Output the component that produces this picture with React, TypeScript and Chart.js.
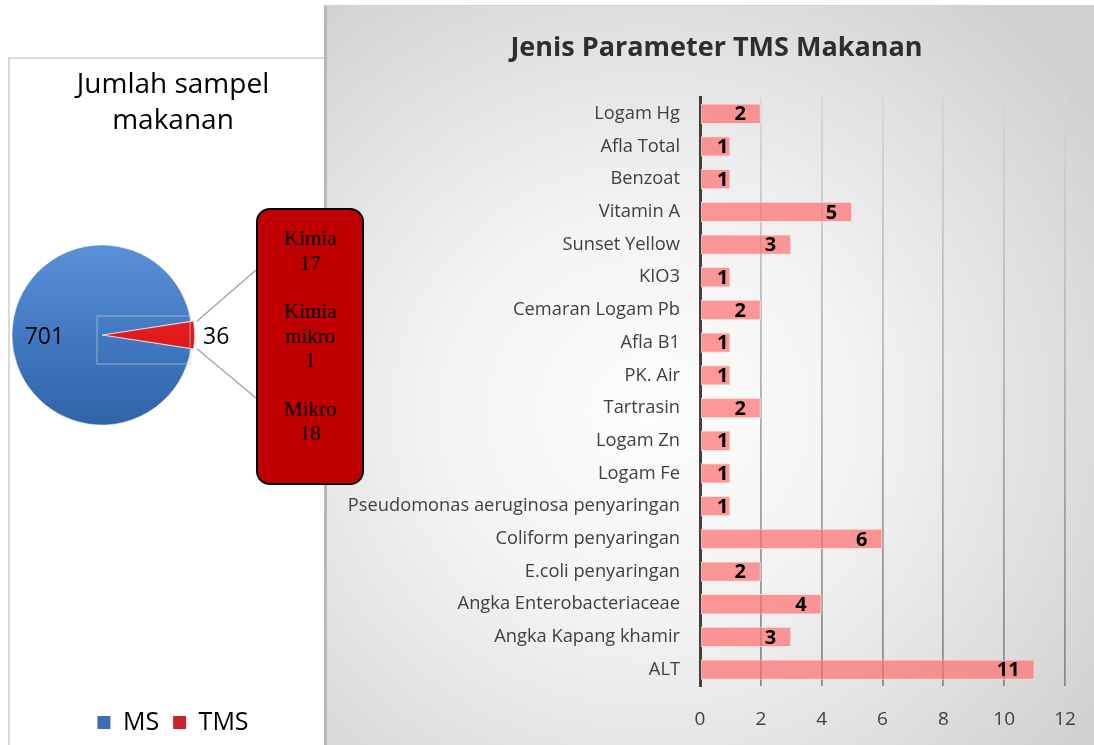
import React, { useEffect, useRef } from "react";
import { Chart, registerables } from "chart.js";

Chart.register(...registerables);

// ---------- data ----------
const pieLabels = ["MS", "TMS"];
const pieValues = [701, 36];
const pieLegendColors = ["#3C6DB4", "#C7252B"];

const calloutNames = ["Kimia", "Kimia mikro", "Mikro"];
const calloutValues = [17, 1, 18];

const barCategories = [
  "Logam Hg",
  "Afla Total",
  "Benzoat",
  "Vitamin A",
  "Sunset Yellow",
  "KIO3",
  "Cemaran Logam Pb",
  "Afla B1",
  "PK. Air",
  "Tartrasin",
  "Logam Zn",
  "Logam Fe",
  "Pseudomonas aeruginosa penyaringan",
  "Coliform penyaringan",
  "E.coli penyaringan",
  "Angka Enterobacteriaceae",
  "Angka Kapang khamir",
  "ALT",
];
const barValues = [2, 1, 1, 5, 3, 1, 2, 1, 1, 2, 1, 1, 1, 6, 2, 4, 3, 11];
const xTickValues = [0, 2, 4, 6, 8, 10, 12];

const SANS = "'Open Sans', 'Noto Sans', sans-serif";
const SERIF = "'Liberation Serif', 'DejaVu Serif', serif";

// layout (page coords)
const PIE_CANVAS = { left: 0, top: 57, width: 346, height: 688 };
const PIE_CENTER = { x: 102, y: 335 };
const PIE_RADIUS = 90;
const BOX = { left: 256, top: 208, width: 108, height: 277 };
const BAR_PANEL = { left: 327, top: 5, width: 767, height: 740 };

function PieChart() {
  const ref = useRef<HTMLCanvasElement | null>(null);
  useEffect(() => {
    if (!ref.current) return;
    const total = pieValues.reduce((a, b) => a + b, 0);
    const tmsDeg = (pieValues[1] / total) * 360;
    const shift = (chart: any) => {
      const ca = chart.chartArea;
      return {
        dx: PIE_CENTER.x - PIE_CANVAS.left - (ca.left + ca.right) / 2,
        dy: PIE_CENTER.y - PIE_CANVAS.top - (ca.top + ca.bottom) / 2,
      };
    };
    const fill = (c: any) => {
      const chart = c.chart;
      const ca = chart.chartArea;
      const i = c.dataIndex;
      if (!ca) return pieLegendColors[i];
      const cy = (ca.top + ca.bottom) / 2;
      const g = chart.ctx.createLinearGradient(0, cy - PIE_RADIUS, 0, cy + PIE_RADIUS);
      if (i === 0) {
        g.addColorStop(0, "#5A91D6");
        g.addColorStop(0.5, "#4279C2");
        g.addColorStop(1, "#3063A8");
      } else {
        g.addColorStop(0, "#F23A3A");
        g.addColorStop(0.5, "#E01B1B");
        g.addColorStop(1, "#A80F0F");
      }
      return g;
    };
    const plugin = {
      id: "pieShift",
      beforeDatasetsDraw(chart: any) {
        const { dx, dy } = shift(chart);
        chart.ctx.save();
        chart.ctx.translate(dx, dy);
      },
      afterDatasetsDraw(chart: any) {
        const ctx = chart.ctx;
        const meta = chart.getDatasetMeta(0);
        // faint selection rectangle
        const a0 = meta.data[0];
        ctx.save();
        ctx.strokeStyle = "rgba(190,200,215,0.7)";
        ctx.lineWidth = 1;
        ctx.strokeRect(a0.x - 5, a0.y - 19, 93, 48);
        ctx.restore();
        // labels
        ctx.save();
        ctx.font = `23px ${SANS}`;
        ctx.fillStyle = "#000";
        ctx.textBaseline = "middle";
        meta.data.forEach((arc: any, i: number) => {
          const mid = (arc.startAngle + arc.endAngle) / 2;
          if (i === 0) {
            ctx.textAlign = "center";
            const r = arc.outerRadius * 0.64;
            ctx.fillText(String(pieValues[i]), arc.x + Math.cos(mid) * r, arc.y + Math.sin(mid) * r + 2);
          } else {
            ctx.textAlign = "left";
            const off = arc.options.offset || 0;
            const r = arc.outerRadius + off + 5;
            ctx.fillText(String(pieValues[i]), arc.x + Math.cos(mid) * r, arc.y + Math.sin(mid) * r + 2);
          }
        });
        ctx.restore();
        // leader lines to callout box
        const tms = meta.data[1];
        const off = tms.options.offset || 0;
        const mid = (tms.startAngle + tms.endAngle) / 2;
        const cx = tms.x + Math.cos(mid) * off;
        const cy = tms.y + Math.sin(mid) * off;
        const R = tms.outerRadius;
        const { dx, dy } = shift(chart);
        const bx = BOX.left - PIE_CANVAS.left - dx;
        const byTop = 270 - PIE_CANVAS.top - dy;
        const byBot = 398 - PIE_CANVAS.top - dy;
        ctx.save();
        ctx.strokeStyle = "#A6A6A6";
        ctx.lineWidth = 1.5;
        ctx.beginPath();
        ctx.moveTo(cx + Math.cos(tms.startAngle) * R, cy + Math.sin(tms.startAngle) * R);
        ctx.lineTo(bx, byTop);
        ctx.moveTo(cx + Math.cos(tms.endAngle) * R, cy + Math.sin(tms.endAngle) * R);
        ctx.lineTo(bx, byBot);
        ctx.stroke();
        ctx.restore();
        ctx.restore();
      },
    };
    const chart = new Chart(ref.current, {
      type: "pie",
      data: {
        labels: pieLabels,
        datasets: [
          {
            data: pieValues,
            backgroundColor: fill as any,
            borderColor: "rgba(255,255,255,0.45)",
            borderWidth: 1,
            offset: [0, 6],
            radius: PIE_RADIUS,
          } as any,
        ],
      },
      options: {
        animation: false,
        responsive: false,
        rotation: 90 + tmsDeg / 2,
        layout: { padding: 0 },
        plugins: {
          tooltip: { enabled: false },
          title: {
            display: true,
            text: ["Jumlah sampel", "makanan"],
            color: "#000",
            font: { family: SANS, size: 28, weight: "normal", lineHeight: 1.29 },
            padding: { top: 10, bottom: 10 },
          },
          legend: {
            display: true,
            position: "bottom",
            labels: {
              font: { family: SANS, size: 25 },
              color: "#000",
              boxWidth: 13,
              boxHeight: 13,
              padding: 14,
              generateLabels: () =>
                pieLabels.map((t, i) => ({
                  text: t,
                  fillStyle: pieLegendColors[i],
                  strokeStyle: pieLegendColors[i],
                  lineWidth: 0,
                  hidden: false,
                  index: i,
                  fontColor: "#000",
                })),
            },
          },
        },
      } as any,
      plugins: [plugin],
    });
    return () => chart.destroy();
  }, []);
  return (
    <canvas
      ref={ref}
      width={PIE_CANVAS.width}
      height={PIE_CANVAS.height}
      style={{
        position: "absolute",
        left: PIE_CANVAS.left,
        top: PIE_CANVAS.top,
        width: PIE_CANVAS.width,
        height: PIE_CANVAS.height,
      }}
    />
  );
}

function BarChart() {
  const ref = useRef<HTMLCanvasElement | null>(null);
  useEffect(() => {
    if (!ref.current) return;
    const labelPlugin = {
      id: "barLabels",
      afterLayout(chart: any) {
        // centre the title over the reference position (shift the title box right)
        if (chart.titleBlock) chart.titleBlock.left += 31;
      },
      afterDatasetsDraw(chart: any) {
        const ctx = chart.ctx;
        const meta = chart.getDatasetMeta(0);
        ctx.save();
        ctx.font = `bold 20px ${SANS}`;
        ctx.fillStyle = "#000";
        ctx.textAlign = "right";
        ctx.textBaseline = "middle";
        meta.data.forEach((bar: any, i: number) => {
          const w = bar.x - bar.base;
          const right = w > 40 ? bar.x - 15 : bar.x - 2;
          ctx.fillText(String(barValues[i]), right, bar.y + 1);
        });
        ctx.restore();
      },
    };
    const gridColor = (c: any) => {
      const chart = c.chart;
      const ca = chart.chartArea;
      if (!ca) return "#BBBBBB";
      const g = chart.ctx.createLinearGradient(0, ca.top, 0, ca.bottom);
      g.addColorStop(0, "#D6D6D6");
      g.addColorStop(1, "#8A8A8A");
      return g;
    };
    const chart = new Chart(ref.current, {
      type: "bar",
      data: {
        labels: barCategories,
        datasets: [
          {
            data: barValues,
            backgroundColor: "rgba(255,110,110,0.7)",
            borderColor: "rgba(255,220,220,0.9)",
            borderWidth: 1,
            borderSkipped: false,
            barPercentage: 0.62,
            categoryPercentage: 1,
          },
        ],
      },
      options: {
        indexAxis: "y",
        animation: false,
        responsive: false,
        layout: { padding: { left: 10, right: 29, top: 0, bottom: 0 } },
        plugins: {
          legend: { display: false },
          tooltip: { enabled: false },
          title: {
            display: true,
            text: "Jenis Parameter TMS Makanan",
            color: "#2E2E2E",
            font: { family: SANS, size: 27, weight: "bold", lineHeight: 1.2 },
            padding: { top: 26, bottom: 33 },
          },
        },
        scales: {
          x: {
            min: 0,
            max: 12,
            afterBuildTicks: (s: any) => {
              s.ticks = xTickValues.map((v) => ({ value: v }));
            },
            afterFit: (s: any) => {
              s.height = 60;
              s.paddingLeft = 0;
              s.paddingRight = 0;
            },
            ticks: {
              font: { family: SANS, size: 19 },
              color: "#404040",
              padding: 22,
            },
            grid: { color: gridColor as any, lineWidth: 1.8, drawTicks: false },
            border: { display: false },
          },
          y: {
            afterFit: (s: any) => {
              s.width = 363;
            },
            ticks: {
              font: { family: SANS, size: 18.3 },
              color: "#404040",
              padding: 20,
            },
            grid: { display: false, drawTicks: false },
            border: { display: true, color: "#404040", width: 3 },
          },
        },
      } as any,
      plugins: [labelPlugin],
    });
    return () => chart.destroy();
  }, []);
  return (
    <canvas
      ref={ref}
      width={BAR_PANEL.width}
      height={BAR_PANEL.height}
      style={{ position: "absolute", left: 0, top: 0, width: BAR_PANEL.width, height: BAR_PANEL.height }}
    />
  );
}

export default function App() {
  return (
    <div
      style={{
        position: "fixed",
        left: 0,
        top: 0,
        width: 1094,
        height: 745,
        overflow: "hidden",
        background: "#fff",
      }}
    >
      <div
        style={{
          position: "absolute",
          left: 8,
          top: 57,
          width: 318,
          height: 720,
          border: "2px solid #D9D9D9",
          boxSizing: "border-box",
          background: "#fff",
        }}
      />
      <PieChart />
      <div
        style={{
          position: "absolute",
          left: BAR_PANEL.left - 3,
          top: BAR_PANEL.top,
          width: BAR_PANEL.width + 3,
          height: BAR_PANEL.height,
          borderLeft: "3px solid #B8B8B8",
          borderTop: "1px solid #D0D0D0",
          boxSizing: "border-box",
          background:
            "radial-gradient(ellipse 72% 72% at 42% 55%, #FDFDFD 0%, #F3F3F3 38%, #DEDEDE 76%, #D0D0D0 100%)",
        }}
      >
        <div style={{ position: "absolute", left: 0, top: 0, width: BAR_PANEL.width, height: BAR_PANEL.height }}>
          <BarChart />
        </div>
      </div>
      <div
        style={{
          position: "absolute",
          left: BOX.left,
          top: BOX.top,
          width: BOX.width,
          height: BOX.height,
          boxSizing: "border-box",
          background: "#C00000",
          border: "2px solid #000",
          borderRadius: 14,
          fontFamily: SERIF,
          fontSize: 21,
          lineHeight: "24.5px",
          color: "#000",
          textAlign: "center",
          paddingTop: 16,
        }}
      >
        {calloutNames.map((name, i) => (
          <div key={i} style={{ marginBottom: 24 }}>
            {name.split(" ").map((w, j) => (
              <div key={j}>{w}</div>
            ))}
            <div>{calloutValues[i]}</div>
          </div>
        ))}
      </div>
    </div>
  );
}
